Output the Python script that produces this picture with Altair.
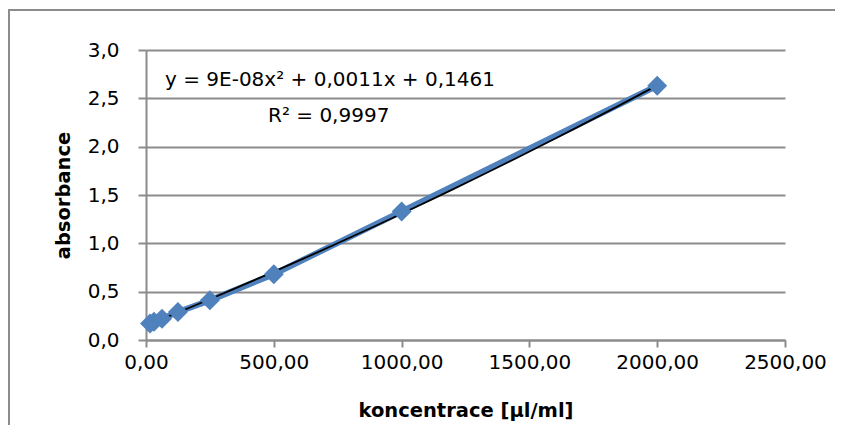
import altair as alt
import pandas as pd

# data
koncentrace = [15.625, 31.25, 62.5, 125, 250, 500, 1000, 2000]
absorbance = [0.17, 0.19, 0.22, 0.29, 0.41, 0.68, 1.33, 2.63]
equation_text = ["y = 9E-08x² + 0,0011x + 0,1461"]
r2_text = ["R² = 0,9997"]
x_ticks = [0, 500, 1000, 1500, 2000, 2500]
y_ticks = [0, 0.5, 1.0, 1.5, 2.0, 2.5, 3.0]

df = pd.DataFrame({"x": koncentrace, "y": absorbance})

FONT = "DejaVu Sans"
BLUE = "#4F81BD"
GRID = "#8C8C8C"

xscale = alt.Scale(domain=[0, 2500], nice=False, zero=True)
yscale = alt.Scale(domain=[0, 3.0], nice=False)

xenc = alt.X(
    "x:Q",
    scale=xscale,
    axis=alt.Axis(
        values=x_ticks,
        labelExpr="replace(format(datum.value, '.2f'), '.', ',')",
        title="koncentrace [µl/ml]",
        grid=False,
        tickSize=7,
        labelPadding=5,
        labelFlush=False,
        titlePadding=29,
    ),
)
yenc = alt.Y(
    "y:Q",
    scale=yscale,
    axis=alt.Axis(
        values=y_ticks,
        labelExpr="replace(format(datum.value, '.1f'), '.', ',')",
        title="absorbance",
        grid=True,
        tickSize=8,
        labelPadding=19,
        labelFlush=False,
        titlePadding=14,
    ),
)

base = alt.Chart(df)

line = base.mark_line(color=BLUE, strokeWidth=6).encode(x=xenc, y=yenc)
points = base.mark_point(
    shape="diamond", filled=True, color=BLUE, size=400, opacity=1
).encode(x="x:Q", y="y:Q")

trend = (
    base.transform_regression("x", "y", method="poly", order=2)
    .mark_line(color="black", strokeWidth=1.8)
    .encode(x="x:Q", y="y:Q")
)

eq = alt.Chart(pd.DataFrame({"t": equation_text})).mark_text(
    align="left", baseline="middle", font=FONT, fontSize=20, color="black"
).encode(text="t:N", x=alt.value(19), y=alt.value(30))

r2 = alt.Chart(pd.DataFrame({"t": r2_text})).mark_text(
    align="left", baseline="middle", font=FONT, fontSize=20, color="black"
).encode(text="t:N", x=alt.value(122), y=alt.value(66))

border_top = alt.Chart(pd.DataFrame({"a": [0]})).mark_rect(
    color=GRID, strokeWidth=0
).encode(x=alt.value(-138), x2=alt.value(689), y=alt.value(-41), y2=alt.value(-39))

border_left = alt.Chart(pd.DataFrame({"a": [0]})).mark_rect(
    color=GRID, strokeWidth=0
).encode(x=alt.value(-138), x2=alt.value(-136), y=alt.value(-41), y2=alt.value(375))

chart = (
    alt.layer(border_top, border_left, line, trend, points, eq, r2)
    .properties(
        width=639,
        height=290,
        autosize=alt.AutoSizeParams(type="none"),
        padding={"left": 138, "top": 42, "right": 50, "bottom": 85},
        background="white",
    )
    .configure_view(stroke=None)
    .configure_axis(
        labelFont=FONT,
        titleFont=FONT,
        labelFontSize=20,
        titleFontSize=19.5,
        titleFontWeight="bold",
        labelColor="black",
        titleColor="black",
        domainColor=GRID,
        domainWidth=2,
        tickColor=GRID,
        tickWidth=2,
        gridColor=GRID,
        gridWidth=2,
    )
)

chart.save("out.html", embed_options={"renderer": "svg", "actions": False})
